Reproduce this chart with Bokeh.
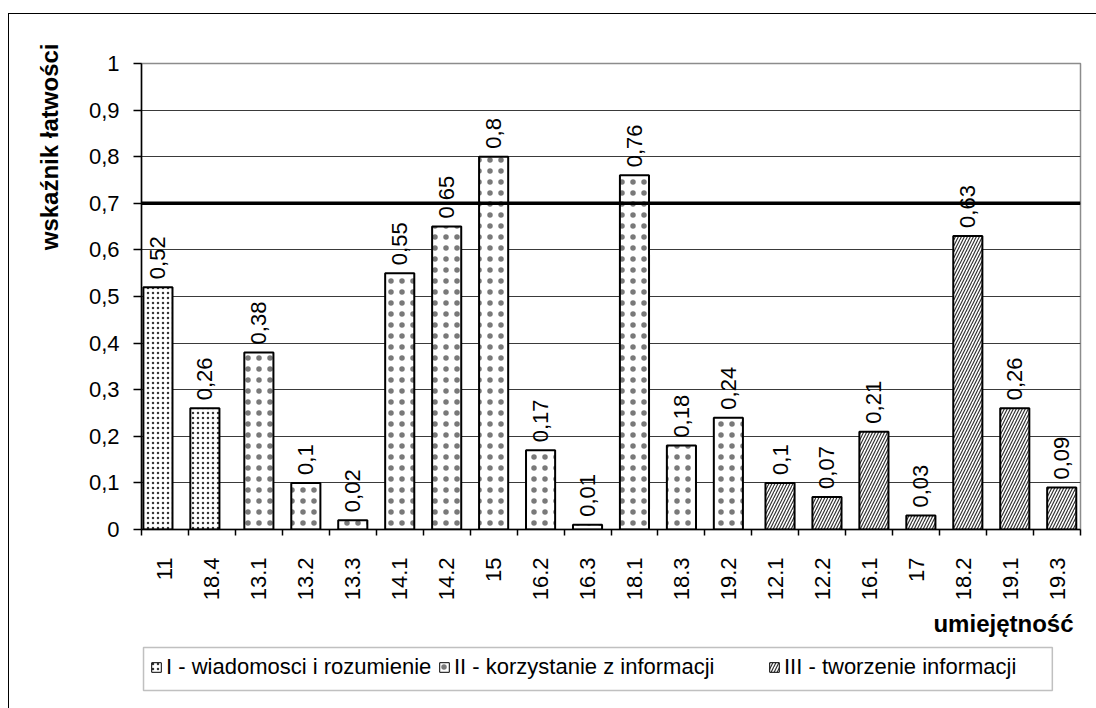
import math

from bokeh.core.properties import value
from bokeh.embed import file_html
from bokeh.layouts import column
from bokeh.models import (BoxAnnotation, ColumnDataSource, CustomJSTickFormatter,
                          FixedTicker, InlineStyleSheet, Legend, LegendItem, Range1d,
                          Span, Title)
from bokeh.plotting import figure
from bokeh.resources import INLINE
from bokeh.transform import dodge

# --- data -------------------------------------------------------------------
skills = ["11", "18.4", "13.1", "13.2", "13.3", "14.1", "14.2", "15", "16.2", "16.3",
          "18.1", "18.3", "19.2", "12.1", "12.2", "16.1", "17", "18.2", "19.1", "19.3"]
ease = [0.52, 0.26, 0.38, 0.10, 0.02, 0.55, 0.65, 0.80, 0.17, 0.01,
        0.76, 0.18, 0.24, 0.10, 0.07, 0.21, 0.03, 0.63, 0.26, 0.09]
skill_group = [0, 0, 1, 1, 1, 1, 1, 1, 1, 1, 1, 1, 1, 2, 2, 2, 2, 2, 2, 2]
group_names = ["I - wiadomosci i rozumienie",
               "II - korzystanie z informacji",
               "III - tworzenie informacji"]
threshold = 0.7
y_ticks = [0.0, 0.1, 0.2, 0.3, 0.4, 0.5, 0.6, 0.7, 0.8, 0.9, 1.0]

# --- styling ----------------------------------------------------------------
FONT = "Liberation Sans"
FS = "22px"
FS_TITLE = "24px"
group_offset = [-0.15, 0.0, 0.1]
group_hatch = [("dot", 5, 0.5, 0.9), ("dot", 11, 0.4, 0.6), ("right_diagonal_line", 6, 1.2, 1.0)]
group_hatch_color = ["#202020", "#202020", "#333333"]
legend_x = [9, 297, 627]   # legend entry offsets (px) from the strip's left edge

n = len(skills)
centers = [i + 0.5 for i in range(n)]
bounds = [float(i) for i in range(n + 1)]

# thin frame around the whole chart area
frame_css = InlineStyleSheet(css="""
:host { position: relative; }
:host::after {
  content: ""; position: absolute; left: 8px; top: 13px; right: -20px; bottom: -20px;
  border: 1.5px solid #000; pointer-events: none;
}
""")

p = figure(width=1096, height=645, output_backend="svg", toolbar_location=None,
           x_range=Range1d(0, n), y_range=Range1d(0, 1),
           min_border_left=141, min_border_right=16, min_border_top=63,
           min_border_bottom=116, x_axis_location="below")
p.background_fill_color = "white"
p.border_fill_color = None
p.outline_line_color = "#8c8c8c"
p.outline_line_width = 1.5

# strip below the chart that holds the legend; its y range keeps the swatch
# renderers' marks out of view so only their legend entries are drawn
leg = figure(width=1096, height=63, output_backend="svg", toolbar_location=None,
             x_range=Range1d(0, n), y_range=Range1d(-2, -1),
             x_axis_location=None, y_axis_location=None,
             min_border_left=141, min_border_right=16, min_border_top=0,
             min_border_bottom=16)
leg.grid.visible = False
leg.border_fill_color = None
leg.background_fill_color = "white"
leg.outline_line_color = None
leg.add_layout(BoxAnnotation(left=0.043, right=19.40, bottom=-1.957, top=-1.043,
                             fill_alpha=0, line_color="#303030", line_width=1.5))

for g, name in enumerate(group_names):
    idx = [i for i in range(n) if skill_group[i] == g]
    src = ColumnDataSource(dict(
        x=[centers[i] for i in idx],
        top=[ease[i] for i in idx],
        lbl=[("%g" % ease[i]).replace(".", ",") for i in idx],
    ))
    pattern, scale, weight, alpha = group_hatch[g]
    style = dict(fill_color="white", line_color="black", hatch_pattern=pattern,
                 hatch_scale=scale, hatch_weight=weight, hatch_alpha=alpha,
                 hatch_color=group_hatch_color[g])
    p.vbar(x=dodge("x", group_offset[g]), top="top", bottom=0, width=0.62,
           source=src, line_width=2, **style)
    p.text(x=dodge("x", group_offset[g]), y="top", text="lbl", source=src,
           angle=math.pi / 2, text_align="left", text_baseline="middle",
           y_offset=-8, text_font=value(FONT), text_font_size=FS, text_color="black")

    sw = leg.rect(x="x", y="top", width=12, height=12, width_units="screen",
                  height_units="screen", source=src, line_width=1, **style)
    leg.add_layout(Legend(items=[LegendItem(label=name, renderers=[sw])],
                          location=(legend_x[g], 12), orientation="horizontal",
                          glyph_width=12, glyph_height=12, label_standoff=4,
                          padding=0, margin=0, border_line_color=None,
                          background_fill_alpha=0, label_text_font=FONT,
                          label_text_font_size=FS, label_text_color="black"))

# reference level
p.add_layout(Span(location=threshold, dimension="width", line_color="black",
                  line_width=3.5))

# y axis
p.yaxis.ticker = FixedTicker(ticks=y_ticks)
p.yaxis.formatter = CustomJSTickFormatter(
    code="return (Math.round(tick*10)/10).toString().replace('.', ',');")
p.yaxis.major_tick_out = 8
p.yaxis.major_tick_in = 0
p.yaxis.minor_tick_out = 0
p.yaxis.minor_tick_in = 0
p.yaxis.major_label_standoff = 14
p.yaxis.axis_line_width = 1.5
p.yaxis.major_tick_line_width = 1.5
p.yaxis.major_label_text_font = FONT
p.yaxis.major_label_text_font_size = FS
p.yaxis.major_label_text_color = "black"

# x axis: labels at category centres, small ticks at category boundaries
p.xaxis.ticker = FixedTicker(ticks=centers, minor_ticks=bounds)
p.xaxis.major_label_overrides = {c: s for c, s in zip(centers, skills)}
p.xaxis.major_tick_out = 0
p.xaxis.major_tick_in = 0
p.xaxis.minor_tick_out = 6
p.xaxis.minor_tick_in = 0
p.xaxis.minor_tick_line_width = 1.5
p.xaxis.axis_line_width = 1.5
p.xaxis.major_label_orientation = math.pi / 2
p.xaxis.major_label_standoff = 22
p.xaxis.major_label_text_font = FONT
p.xaxis.major_label_text_font_size = FS
p.xaxis.major_label_text_color = "black"

p.xgrid.grid_line_color = None
p.ygrid.ticker = FixedTicker(ticks=y_ticks[1:-1])
p.ygrid.grid_line_color = "#3a3a3a"
p.ygrid.grid_line_width = 1

# axis titles
p.add_layout(Title(text="wskaźnik łatwości", align="right", offset=-20, standoff=46,
                   text_font=FONT, text_font_size=FS_TITLE, text_font_style="bold",
                   text_color="black"), "left")
p.add_layout(Title(text="umiejętność", align="right", offset=7, standoff=9,
                   text_font=FONT, text_font_size=FS_TITLE, text_font_style="bold",
                   text_color="black"), "below")

layout = column(p, leg, spacing=0, stylesheets=[frame_css],
                styles={"background-color": "white"})
open("out.html", "w").write(file_html(layout, INLINE))
